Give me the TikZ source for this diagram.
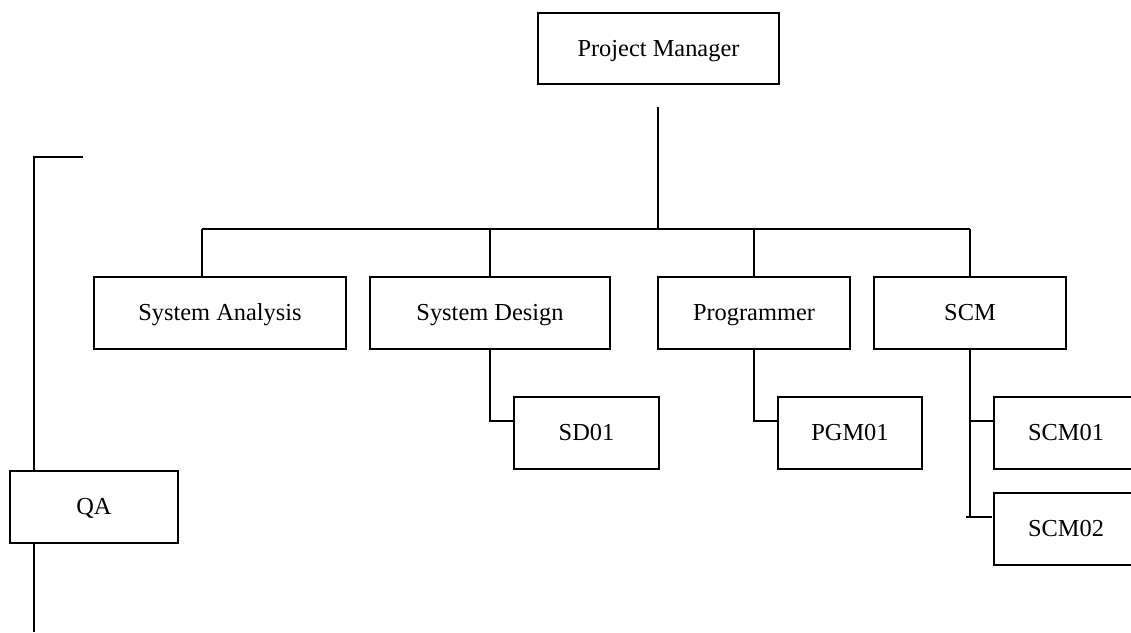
\documentclass[tikz,border=0pt]{standalone}
\usepackage{fontspec}
\setmainfont{Liberation Serif}
\usetikzlibrary{calc}
\begin{document}
\begin{tikzpicture}[x=1pt,y=-1pt,
  orgbox/.style={draw,line width=1.8pt,inner sep=0pt,outer sep=0pt,minimum height=72pt,
    text height=17pt,text depth=2pt,
    font=\fontsize{24.4}{29}\selectfont},
  link/.style={line width=1.8pt}]
\clip (0,0) rectangle (1131,632);
\fill[white] (0,0) rectangle (1131,632);
% boxes
\node[orgbox,minimum width=241pt,minimum height=71pt] (pm) at (658.5,48.5) {Project Manager};
\node[orgbox,minimum width=252pt] (sa) at (220,313) {System Analysis};
\node[orgbox,minimum width=240pt] (sd) at (490,313) {System Design};
\node[orgbox,minimum width=192pt] (pg) at (754,313) {Programmer};
\node[orgbox,minimum width=192pt] (scm) at (970,313) {SCM};
\node[orgbox,minimum width=145pt] (sd01) at (586.5,433) {SD01};
\node[orgbox,minimum width=144pt] (pgm01) at (850,433) {PGM01};
\node[orgbox,minimum width=144pt] (scm01) at (1066,433) {SCM01};
\node[orgbox,minimum width=144pt] (scm02) at (1066,529) {SCM02};
\node[orgbox,minimum width=168pt] (qa) at (94,507) {QA};
% bus
\coordinate (pmline) at (658,107);
\coordinate (busJ) at (658,229);
\coordinate (busL) at (202,229);
\coordinate (busR) at (970,229);
\draw[link] (pmline) -- (busJ);
\draw[link] (busL) -- (busR);
\draw[link] (busL) -- (busL |- sa.north);
\draw[link] (sd.north |- busL) -- (sd.north);
\draw[link] (pg.north |- busL) -- (pg.north);
\draw[link] (busR) -- (scm.north);
% sub links
\draw[link] (sd.south) |- ($(sd01.north west)+(0,24)$);
\draw[link] (pg.south) |- ($(pgm01.north west)+(0,24)$);
\coordinate (c2) at ($(scm02.north west)+(-2,24)$);
\coordinate (tickL) at ($(c2)+(-26,0)$);
\draw[link] (scm.south) |- ($(scm01.north west)+(0,24)$);
\draw[link] (scm.south) -- (scm.south |- c2);
\draw[link] (tickL) -- (c2);
% QA line
\coordinate (qaend) at (83,157);
\coordinate (qaTopJ) at ($(qa.north west)+(24,0)$);
\coordinate (qaBotJ) at ($(qa.south west)+(24,0)$);
\coordinate (qaBot) at (34,632);
\draw[link] (qaend) -| (qaTopJ);
\draw[link] (qaBotJ) -- (qaBot);
\end{tikzpicture}
\end{document}
